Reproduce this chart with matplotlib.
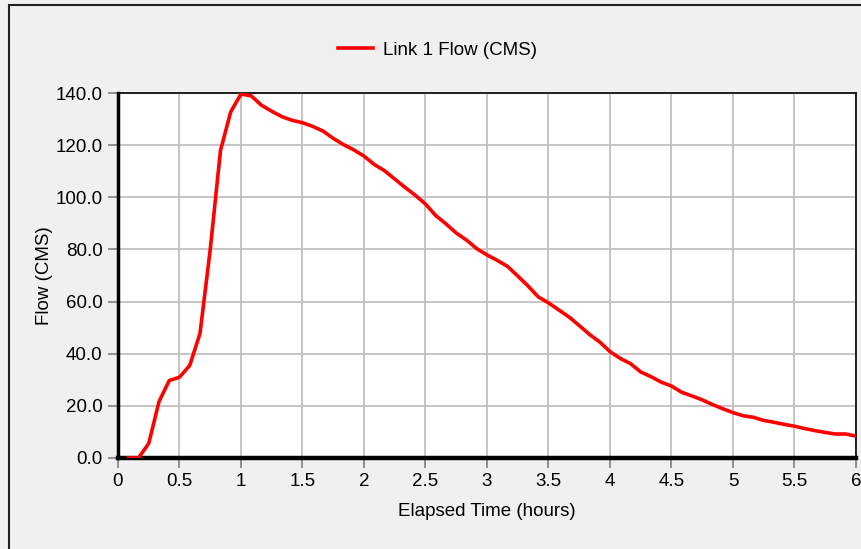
import matplotlib
matplotlib.use("Agg")
import matplotlib.pyplot as plt
from matplotlib.patches import Rectangle
import numpy as np

# 5-minute steps (hours)
step = np.arange(1, 73)
time_h = step / 12.0
flow = [0.0, 0.0, 5.6, 21.6, 29.7, 31.0, 35.5, 47.8, 80.0, 118.0,
        132.8, 139.6, 138.9, 135.3, 133.0, 130.9, 129.5, 128.6, 127.2, 125.4,
        122.6, 120.2, 118.2, 115.8, 112.6, 110.2, 107.0, 103.8, 100.8, 97.4,
        93.0, 89.8, 86.3, 83.6, 80.3, 77.9, 75.8, 73.5, 69.8, 66.0,
        61.8, 59.5, 56.8, 54.1, 50.8, 47.4, 44.5, 40.8, 38.2, 36.2,
        33.0, 31.2, 29.1, 27.6, 25.2, 23.8, 22.3, 20.5, 18.9, 17.4,
        16.2, 15.6, 14.4, 13.7, 12.9, 12.2, 11.3, 10.5, 9.8, 9.2,
        9.2, 8.4]
xticks = [0, 0.5, 1, 1.5, 2, 2.5, 3, 3.5, 4, 4.5, 5, 5.5, 6]
yticks = [0, 20, 40, 60, 80, 100, 120, 140]

plt.rcParams['font.family'] = ['Liberation Sans', 'DejaVu Sans']

fig = plt.figure(figsize=(8.62, 5.49), dpi=100)
fig.patch.set_facecolor('#f0f0f0')
# outer frame
fig.patches.append(Rectangle((9 / 862, -0.05), 1.1, 1.05 - 5 / 549, transform=fig.transFigure,
                             fill=False, edgecolor='#202020', linewidth=1.5))

ax = fig.add_axes([118 / 862, 91 / 549, 738 / 862, 365 / 549])
ax.set_facecolor('white')
ax.plot(time_h, flow, color='#ff0000', linewidth=2.6, label='Link 1 Flow (CMS)', zorder=3)

ax.set_xlim(0, 6)
ax.set_ylim(0, 140)
ax.set_xticks(xticks)
ax.set_xticklabels(['%g' % v for v in xticks])
ax.set_yticks(yticks)
ax.set_yticklabels(['%.1f' % v for v in yticks])
ax.grid(True, color='#c0c0c0', linewidth=1.3)
ax.set_axisbelow(True)

ax.tick_params(axis='both', colors='#808080', length=7, width=1.2, labelsize=13.5,
               labelcolor='black', pad=4)
ax.spines['left'].set_linewidth(2.5)
ax.spines['bottom'].set_linewidth(3.2)
for s in ['top', 'right']:
    ax.spines[s].set_linewidth(1.2)
for s in ax.spines.values():
    s.set_color('black')

ax.set_xlabel('Elapsed Time (hours)', fontsize=13.5, labelpad=9)
ax.set_ylabel('Flow (CMS)', fontsize=13.5, labelpad=2)

fig.legend(loc='center', bbox_to_anchor=(438 / 862, 499 / 549), frameon=False,
           fontsize=13.5, handlelength=1.85, handletextpad=0.55)

fig.savefig('out.png', dpi=100, facecolor=fig.get_facecolor())
